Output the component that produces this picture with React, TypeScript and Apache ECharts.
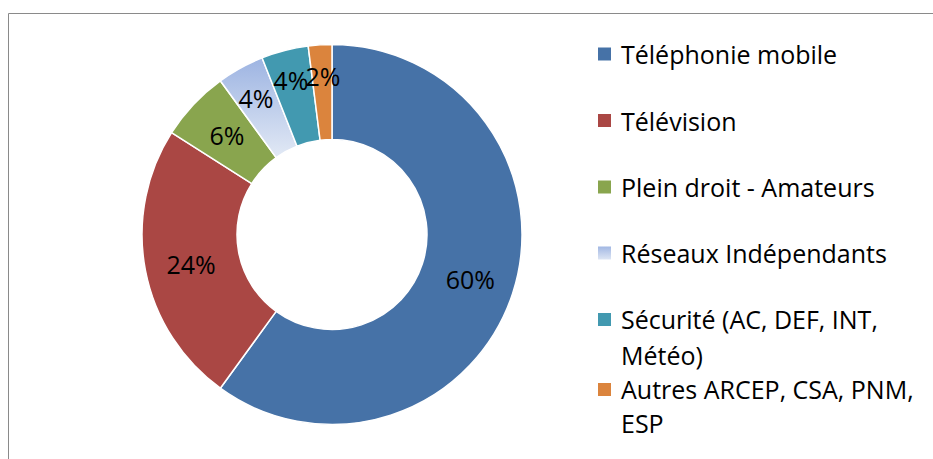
import React, { useEffect, useRef } from 'react';
import * as echarts from 'echarts';

const categories = [
  'Téléphonie mobile',
  'Télévision',
  'Plein droit - Amateurs',
  'Réseaux Indépendants',
  'Sécurité (AC, DEF, INT, Météo)',
  'Autres ARCEP, CSA, PNM, ESP',
];
const values = [60, 24, 6, 4, 4, 2];
const legendLines = [
  ['Téléphonie mobile'],
  ['Télévision'],
  ['Plein droit - Amateurs'],
  ['Réseaux Indépendants'],
  ['Sécurité (AC, DEF, INT,', 'Météo)'],
  ['Autres ARCEP, CSA, PNM,', 'ESP'],
];

const FONT = '"Open Sans", Lato, "Noto Sans", sans-serif';
const FS = 25;

const colors: any[] = [
  '#4672A7',
  '#AA4744',
  '#89A54E',
  new echarts.graphic.LinearGradient(0, 0, 0, 1, [
    { offset: 0, color: '#9DB4E2' },
    { offset: 1, color: '#E2E9F5' },
  ]),
  '#4299B0',
  '#DB843D',
];

const iconCenters = [54, 120.5, 187, 253, 319.5, 389.5];
const secondLineOffset = [0, 0, 0, 0, 35.5, 33];
const labelNudge = [
  [0, 0],
  [2, 2],
  [1, 0],
  [-6, -9],
  [-5, -14],
  [0, -13],
];

export default function App() {
  const ref = useRef<HTMLDivElement>(null);
  useEffect(() => {
    if (!ref.current) return;
    const chart = echarts.init(ref.current, null, { renderer: 'svg' });
    const legends = categories.map((name, i) => {
      const lines = legendLines[i];
      const multi = lines.length > 1;
      const d = secondLineOffset[i];
      const base = { fontFamily: FONT, fontSize: FS, color: '#000' };
      // first line box tall (2*d), second line tiny: first line sits at the icon centre
      const L1 = 2 * d;
      const L2 = 2;
      const boxH = multi ? L1 + L2 : 34;
      return {
        data: [name],
        left: 596,
        top: iconCenters[i] - boxH / 2,
        orient: 'vertical',
        padding: 0,
        itemGap: 0,
        itemWidth: 15,
        itemHeight: 15,
        icon: 'rect',
        selectedMode: false,
        formatter: () =>
          multi ? '{a|' + lines[0] + '}\n{b|' + lines[1] + '}' : lines[0],
        textStyle: {
          ...base,
          lineHeight: 34,
          padding: [0, 0, 0, 4],
          rich: {
            a: { ...base, lineHeight: L1 },
            b: { ...base, lineHeight: L2 },
          },
        },
      };
    });
    chart.setOption({
      animation: false,
      backgroundColor: '#fff',
      graphic: [
        {
          type: 'rect',
          shape: { x: 8.5, y: 13.5, width: 1000, height: 600 },
          style: { fill: 'none', stroke: '#8a8a8a', lineWidth: 1 },
          silent: true,
        },
      ],
      legend: legends,
      series: [
        {
          type: 'pie',
          center: [332, 234.5],
          radius: [95, 190],
          startAngle: 90,
          clockwise: true,
          avoidLabelOverlap: false,
          itemStyle: { borderColor: '#fff', borderWidth: 1.5 },
          label: {
            show: true,
            position: 'inside',
            formatter: '{c}%',
            fontFamily: FONT,
            fontSize: FS,
            color: '#000',
          },
          labelLine: { show: false },
          labelLayout: (p: any) => ({
            dx: labelNudge[p.dataIndex][0],
            dy: labelNudge[p.dataIndex][1],
          }),
          emphasis: { disabled: true },
          data: categories.map((name, i) => ({
            name,
            value: values[i],
            itemStyle: { color: colors[i] },
          })),
        },
      ],
    });
    return () => chart.dispose();
  }, []);
  return (
    <div
      ref={ref}
      style={{ position: 'fixed', left: 0, top: 0, width: 933, height: 459 }}
    />
  );
}
